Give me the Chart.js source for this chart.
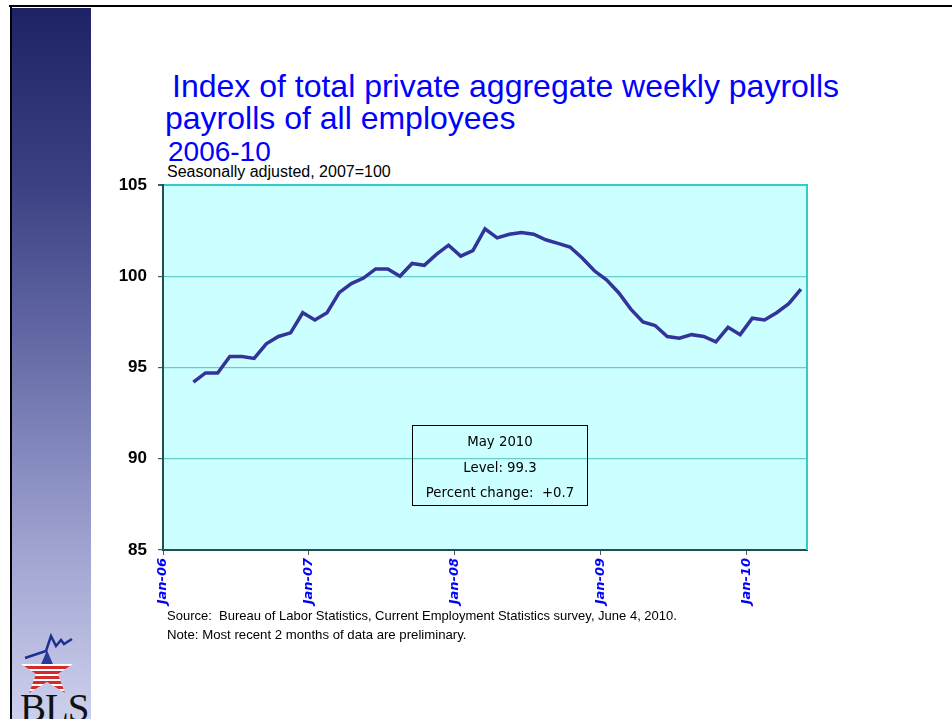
<!DOCTYPE html>
<html>
<head>
<meta charset="utf-8">
<script src="https://cdn.jsdelivr.net/npm/chart.js@4.4.1/dist/chart.umd.min.js"></script>
<style>
  body { margin:0; width:952px; height:719px; background:#fff; position:relative; overflow:hidden; font-family:"Liberation Sans", Arial, sans-serif; }
  .abs { position:absolute; white-space:pre; line-height:1; }
  #topline { left:9px; top:5px; width:943px; height:2px; background:#000; }
  #leftline { left:10px; top:7px; width:2px; height:712px; background:#000; }
  #band { left:12px; top:8px; width:79px; height:711px;
    background:linear-gradient(#1d2365 0%, #3b4183 25%, #6a6faa 50%, #9da1cf 75%, #cdd0ec 100%); }
  .title { color:#0000ff; }
  #t1 { left:172px; top:70px; font-size:32px; }
  #t2 { left:165px; top:102px; font-size:32px; }
  #t3 { left:168px; top:138px; font-size:28px; }
  #sub { left:167px; top:164px; font-size:16px; color:#000; }
  #src { left:167px; top:609px; font-size:13px; color:#000; }
  #note { left:167px; top:628px; font-size:13.2px; color:#000; }
  #wrap { position:absolute; left:100px; top:170px; width:720px; height:450px; }
  #box { position:absolute; left:412px; top:425px; width:176px; height:81px; box-sizing:border-box;
    border:1px solid #000; font-family:"DejaVu Sans", sans-serif; font-size:13.3px; color:#000;
    text-align:center; line-height:25.5px; padding-top:3px; white-space:pre; }
  #bls { left:20px; top:688px; font-family:"Liberation Serif", serif; font-size:39px; color:#111; letter-spacing:-1px; }
  #logo { position:absolute; left:0; top:620px; }
</style>
</head>
<body>
<div class="abs" id="band"></div>
<div class="abs" id="topline"></div>
<div class="abs" id="leftline"></div>

<div class="abs title" id="t1">Index of total private aggregate weekly payrolls</div>
<div class="abs title" id="t2">payrolls of all employees</div>
<div class="abs title" id="t3">2006-10</div>
<div class="abs" id="sub">Seasonally adjusted, 2007=100</div>

<div id="wrap"><canvas id="chart" width="720" height="450"></canvas></div>

<div id="box">May 2010
Level: 99.3
Percent change:  +0.7</div>

<div class="abs" id="src">Source:  Bureau of Labor Statistics, Current Employment Statistics survey, June 4, 2010.</div>
<div class="abs" id="note">Note: Most recent 2 months of data are preliminary.</div>

<svg id="logo" width="90" height="90" viewBox="0 620 90 90">
  <defs>
    <clipPath id="star">
      <polygon points="47,650 53,664 73,664 58,674 65,693 47,682 29,693 36,674 21,664 41,664"/>
    </clipPath>
  </defs>
  <g clip-path="url(#star)">
    <rect x="15" y="645" width="65" height="55" fill="#fff"/>
    <rect x="15" y="645" width="65" height="19" fill="#2a3a96"/>
    <rect x="15" y="666" width="65" height="3" fill="#d42a2a"/>
    <rect x="15" y="671" width="65" height="3" fill="#d42a2a"/>
    <rect x="15" y="676" width="65" height="3" fill="#d42a2a"/>
    <rect x="15" y="681" width="65" height="3" fill="#d42a2a"/>
    <rect x="15" y="686" width="65" height="3" fill="#d42a2a"/>
    <rect x="15" y="691" width="65" height="3" fill="#d42a2a"/>
  </g>
  <polyline points="25,658 46,651 51,636 56,646 61,640 64,644 72,639" fill="none" stroke="#1f2f8f" stroke-width="2.5"/>
</svg>
<div class="abs" id="bls">BLS</div>

<script>
// months Jan-06 .. May-10 (category slots on the x axis)
const months = [
  "Jan-06","Feb-06","Mar-06","Apr-06","May-06","Jun-06","Jul-06","Aug-06","Sep-06","Oct-06","Nov-06","Dec-06",
  "Jan-07","Feb-07","Mar-07","Apr-07","May-07","Jun-07","Jul-07","Aug-07","Sep-07","Oct-07","Nov-07","Dec-07",
  "Jan-08","Feb-08","Mar-08","Apr-08","May-08","Jun-08","Jul-08","Aug-08","Sep-08","Oct-08","Nov-08","Dec-08",
  "Jan-09","Feb-09","Mar-09","Apr-09","May-09","Jun-09","Jul-09","Aug-09","Sep-09","Oct-09","Nov-09","Dec-09",
  "Jan-10","Feb-10","Mar-10","Apr-10","May-10"
];

// index values, 2007=100 (series starts Mar-06)
const payrollIndex = [
  null, null,
  94.2, 94.7, 94.7, 95.6, 95.6, 95.5, 96.3, 96.7, 96.9, 98.0,
  97.6, 98.0, 99.1, 99.6, 99.9, 100.4, 100.4, 100.0, 100.7, 100.6, 101.2, 101.7,
  101.1, 101.4, 102.6, 102.1, 102.3, 102.4, 102.3, 102.0, 101.8, 101.6, 101.0, 100.3,
  99.8, 99.1, 98.2, 97.5, 97.3, 96.7, 96.6, 96.8, 96.7, 96.4, 97.2, 96.8,
  97.7, 97.6, 98.0, 98.5, 99.3
];

const xTickLabels = ["Jan-06", "Jan-07", "Jan-08", "Jan-09", "Jan-10"];
const yTicks = [85, 90, 95, 100, 105];

// each month sits in the middle of its slot, ticks on the slot edges
const points = months.map((m, i) => ({ x: i + 0.5, y: payrollIndex[i] }));

const plotBg = {
  id: "plotBg",
  beforeDraw(chart) {
    const { ctx, chartArea: a } = chart;
    ctx.save();
    ctx.fillStyle = "#ccffff";
    ctx.fillRect(a.left, a.top, a.right - a.left, a.bottom - a.top);
    ctx.restore();
  },
  afterDraw(chart) {
    const { ctx, chartArea: a } = chart;
    ctx.save();
    ctx.strokeStyle = "#33cccc";
    ctx.lineWidth = 2;
    ctx.beginPath();
    ctx.moveTo(a.right, a.top - 1);
    ctx.lineTo(a.right, a.bottom);
    ctx.stroke();
    ctx.restore();
  }
};

new Chart(document.getElementById("chart"), {
  type: "line",
  data: {
    datasets: [{
      data: points,
      borderColor: "#333399",
      borderWidth: 3.5,
      pointRadius: 0,
      tension: 0,
      fill: false
    }]
  },
  options: {
    responsive: false,
    animation: false,
    layout: { padding: { top: 15, right: 13, left: 0, bottom: 0 } },
    plugins: { legend: { display: false }, tooltip: { enabled: false } },
    scales: {
      x: {
        type: "linear",
        min: 0,
        max: months.length,
        afterFit: s => { s.height = 70; s.paddingLeft = 0; s.paddingRight = 0; },
        afterBuildTicks: s => { s.ticks = xTickLabels.map((l, i) => ({ value: i * 12 })); },
        ticks: {
          includeBounds: false,
          autoSkip: false,
          minRotation: 90,
          maxRotation: 90,
          padding: 3,
          color: "#0000ff",
          font: { family: "DejaVu Sans", size: 13, weight: "bold", style: "italic" },
          callback: v => xTickLabels[v / 12]
        },
        grid: { drawOnChartArea: false, drawTicks: true, tickLength: 5, tickColor: "#555", lineWidth: 1 },
        border: { color: "#1f4f4f", width: 2 }
      },
      y: {
        min: 85,
        max: 105,
        afterFit: s => { s.width = 63; s.paddingTop = 0; s.paddingBottom = 0; },
        afterBuildTicks: s => { s.ticks = yTicks.map(v => ({ value: v })); },
        ticks: {
          padding: 11,
          color: "#000",
          font: { family: "Liberation Sans", size: 17, weight: "bold" }
        },
        grid: {
          color: c => c.tick && c.tick.value === 105 ? "#33cccc" : "#66cccc",
          lineWidth: c => c.tick && c.tick.value === 105 ? 2 : 1.2,
          tickLength: 5,
          tickColor: "#555"
        },
        border: { color: "#1f4f4f", width: 2 }
      }
    }
  },
  plugins: [plotBg]
});
</script>
</body>
</html>
